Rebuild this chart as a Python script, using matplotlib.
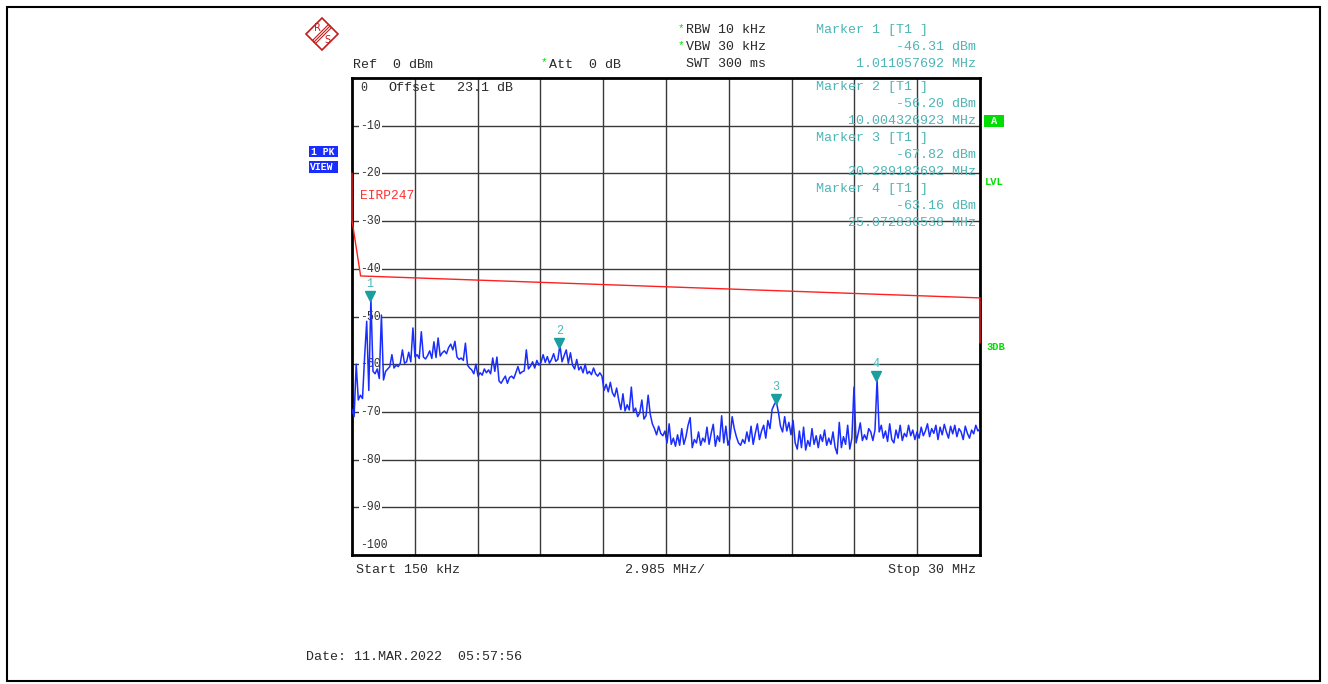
import matplotlib.pyplot as plt
import matplotlib.transforms as mtransforms
from matplotlib.patches import Rectangle, Polygon
import numpy as np

W, H = 1328, 684

# sweep: 150 kHz .. 30 MHz, ref 0 dBm, 10 dB/div
f_start, f_stop = 0.15, 30.0
trace_db = [
    -69.5, -71.0, -60.0, -67.5, -66.5, -67.2, -58.5, -51.0, -65.5, -46.3,
    -61.5, -62.0, -61.0, -63.0, -49.7, -63.3, -61.5, -61.0, -60.5, -58.0,
    -60.8, -60.2, -60.5, -59.8, -57.0, -59.8, -59.5, -57.5, -59.5, -52.4,
    -58.5, -58.0, -58.8, -53.2, -58.5, -58.9, -58.2, -57.2, -58.8, -55.3,
    -58.6, -54.5, -58.3, -57.6, -57.2, -57.8, -56.5, -55.8, -57.0, -55.2,
    -58.5, -59.0, -58.7, -59.2, -55.6, -60.2, -60.8, -61.2, -62.0, -60.0,
    -62.5, -61.8, -62.3, -61.0, -61.8, -61.2, -62.0, -58.7, -61.5, -58.5,
    -63.5, -64.0, -63.2, -62.5, -64.0, -62.8, -62.5, -63.0, -61.8, -60.5,
    -62.0, -61.6, -61.4, -57.0, -61.0, -60.4, -59.5, -60.8, -59.2, -60.2,
    -59.6, -58.0, -59.6, -58.4, -59.8, -59.0, -57.8, -59.4, -59.0, -56.0,
    -59.5, -58.2, -57.0, -59.8, -57.6, -60.2, -61.0, -59.0, -61.2, -60.5,
    -61.8, -60.0, -62.0, -61.5, -62.2, -60.8, -62.0, -62.5, -61.8, -62.5,
    -65.5, -64.2, -65.8, -63.8, -66.0, -66.8, -65.0, -67.5, -69.5, -66.2,
    -69.8, -68.5, -69.6, -64.8, -70.0, -69.2, -71.0, -70.2, -67.5, -71.5,
    -70.8, -66.5, -70.5, -72.5, -73.5, -74.8, -73.0, -74.5, -75.0, -74.0,
    -76.5, -72.5, -76.8, -75.5, -77.2, -74.8, -77.0, -73.5, -76.8, -75.2,
    -72.8, -71.2, -77.5, -75.8, -76.5, -74.2, -77.0, -75.5, -76.3, -73.2,
    -76.8, -74.5, -72.6, -77.2, -75.0, -76.2, -70.8, -76.5, -73.0, -77.0,
    -75.5, -71.0, -73.5, -75.2, -76.5, -77.0, -75.8, -76.6, -74.2, -76.2,
    -73.0, -76.8, -74.5, -72.5, -75.8, -74.0, -72.8, -75.5, -71.8, -73.5,
    -69.5, -68.5, -67.8, -70.0, -73.0, -74.2, -71.0, -74.0, -72.2, -74.8,
    -71.8, -76.5, -77.8, -74.0, -77.5, -73.2, -78.0, -76.0, -77.2, -73.5,
    -76.8, -75.0, -77.5, -74.8, -76.2, -73.8, -77.0, -75.5, -76.8, -74.2,
    -77.4, -78.8, -72.2, -77.5, -75.2, -76.8, -72.8, -77.8, -75.5, -64.8,
    -76.5, -74.5, -72.3, -76.0, -74.8, -75.8, -73.5, -74.2, -76.0, -73.8,
    -63.2, -74.2, -72.8, -75.5, -74.0, -76.2, -72.5, -75.8, -76.5, -73.8,
    -75.5, -72.8, -76.0, -74.5, -75.2, -72.8, -75.0, -73.8, -75.8, -74.2,
    -75.5, -73.2, -75.0, -74.0, -72.5, -75.2, -73.5, -74.5, -72.8, -75.8,
    -73.2, -74.8, -72.6, -74.2, -75.5, -73.0, -74.6, -72.8, -75.2, -73.5,
    -74.2, -75.8, -73.0, -74.5, -75.5, -73.8, -74.6, -72.8, -74.0, -73.5,
]

# limit line EIRP247 (MHz, dB)
limit_f = [0.15, 0.15, 0.56, 30.0, 30.0]
limit_db = [-20.0, -29.8, -41.5, -46.1, -55.5]

# markers
marker_f = [1.011057692, 10.004326923, 20.289182692, 25.072836538]
marker_db = [-46.31, -56.20, -67.82, -63.16]
marker_names = ["1", "2", "3", "4"]

y_ticks = [0, -10, -20, -30, -40, -50, -60, -70, -80, -90, -100]

MONO = "Liberation Mono"
FS = 9.6
TEAL = "#4db5b5"
GREEN = "#00dd00"
BLUE = "#1a2dff"
INK = "#2a2a2a"


def fx(x):
    return x / W


def fy(y):
    return 1 - y / H


def ftext(x, y, s, **kw):
    kw.setdefault("family", MONO)
    kw.setdefault("fontsize", FS)
    kw.setdefault("color", INK)
    kw.setdefault("va", "center")
    fig.text(fx(x), fy(y), s, **kw)


def box(x0, y0, x1, y1, color):
    fig.add_artist(Rectangle((fx(x0), fy(y1)), fx(x1 - x0), (y1 - y0) / H,
                             transform=fig.transFigure, color=color, lw=0))


fig = plt.figure(figsize=(W / 100, H / 100), dpi=100)

# outer frame
fig.add_artist(Rectangle((fx(7), fy(681)), fx(1313), 674 / H, transform=fig.transFigure,
                         fill=False, ec="black", lw=1.5))

ax = fig.add_axes([fx(352), fy(555), fx(628), 477 / H])
ax.set_xlim(f_start, f_stop)
ax.set_ylim(-100, 0)
ax.set_xticks([])
ax.set_yticks([])
for s in ax.spines.values():
    s.set_linewidth(2)
    s.set_color("black")

span_div = (f_stop - f_start) / 10
for k in range(1, 10):
    ax.axvline(f_start + k * span_div, color="#3a3a3a", lw=1, zorder=1)
for v in y_ticks[1:-1]:
    ax.axhline(v, color="#3a3a3a", lw=1, zorder=1)

# y labels inside grid
for v in y_ticks:
    if v == 0:
        ax.text(0.55, -2.1, "0", family=MONO, fontsize=8.3, color="#333333", va="center", zorder=3)
    elif v == -100:
        ax.text(0.55, -97.9, "-100", family=MONO, fontsize=8.3, color="#333333", va="center", zorder=3)
    else:
        ax.text(0.55, v, str(v), family=MONO, fontsize=8.3, color="#333333", va="center", zorder=3,
                bbox=dict(facecolor="white", edgecolor="none", pad=0.8))

freq = np.linspace(f_start, f_stop, len(trace_db))
ax.plot(freq, trace_db, color=BLUE, lw=1.1, zorder=4)
ax.plot(limit_f, limit_db, color="#ff2020", lw=1.0, zorder=3, clip_on=False)

tri = mtransforms.offset_copy(ax.transData, fig=fig, y=3, units="dots")
num = mtransforms.offset_copy(ax.transData, fig=fig, y=15, units="dots")
for f, d, n in zip(marker_f, marker_db, marker_names):
    ax.plot([f], [d], marker="v", color="#1a9e9e", markersize=6.5, transform=tri, zorder=5)
    ax.text(f, d, n, transform=num, color=TEAL, family=MONO, fontsize=8.5, ha="center", va="center", zorder=5)

ax.text(0.55, -24.7, "EIRP247", family=MONO, fontsize=9.3, color="#ff3030", va="center", zorder=3)
ftext(388, 88, "Offset")
ftext(457, 88, "23.1 dB")

# header
ftext(353, 65, "Ref  0 dBm")
ftext(541, 62, "*", color=GREEN, fontsize=8)
ftext(549, 65, "Att  0 dB")
ftext(678, 28, "*", color=GREEN, fontsize=8)
ftext(678, 45, "*", color=GREEN, fontsize=8)
ftext(686, 30, "RBW 10 kHz")
ftext(686, 47, "VBW 30 kHz")
ftext(686, 64, "SWT 300 ms")

marker_rows = [30, 87, 138, 189]
for i, (f, d, y0) in enumerate(zip(marker_f, marker_db, marker_rows)):
    ftext(816, y0, "Marker %d [T1 ]" % (i + 1), color=TEAL)
    ftext(976, y0 + 17, "%.2f dBm" % d, color=TEAL, ha="right")
    ftext(976, y0 + 34, "%.9f MHz" % f, color=TEAL, ha="right")

# side labels
box(309, 146, 338, 157, BLUE)
box(309, 161, 338, 173, BLUE)
ftext(311, 152, "1 PK", color="white", fontsize=7, weight="bold")
ftext(310, 167, "VIEW", color="white", fontsize=7, weight="bold")
box(984, 115, 1004, 127, GREEN)
ftext(994, 121, "A", color="white", fontsize=7.5, weight="bold", ha="center")
ftext(985, 182, "LVL", color=GREEN, fontsize=7.5, weight="bold")
ftext(986, 347, "3DB", color=GREEN, fontsize=7.5, weight="bold")

# footer
ftext(356, 570, "Start 150 kHz")
ftext(625, 570, "2.985 MHz/")
ftext(976, 570, "Stop 30 MHz", ha="right")
ftext(306, 657, "Date: 11.MAR.2022  05:57:56")

# R&S logo
cx, cy, r = 322, 34, 16
fig.add_artist(Polygon([(fx(cx), fy(cy - r)), (fx(cx + r), fy(cy)), (fx(cx), fy(cy + r)), (fx(cx - r), fy(cy))],
                       closed=True, fill=False, ec="#c41a1a", lw=1.2, transform=fig.transFigure))
for o in (-1.5, 0, 1.5):
    fig.add_artist(plt.Line2D([fx(330 + o), fx(314 + o)], [fy(26 + o), fy(42 + o)],
                              color="#c41a1a", lw=0.8, transform=fig.transFigure))
ftext(317, 28, "R", color="#c41a1a", fontsize=7, ha="center", family="DejaVu Sans")
ftext(327, 40, "S", color="#c41a1a", fontsize=7, ha="center", family="DejaVu Sans")

fig.savefig("out.png", dpi=100)
